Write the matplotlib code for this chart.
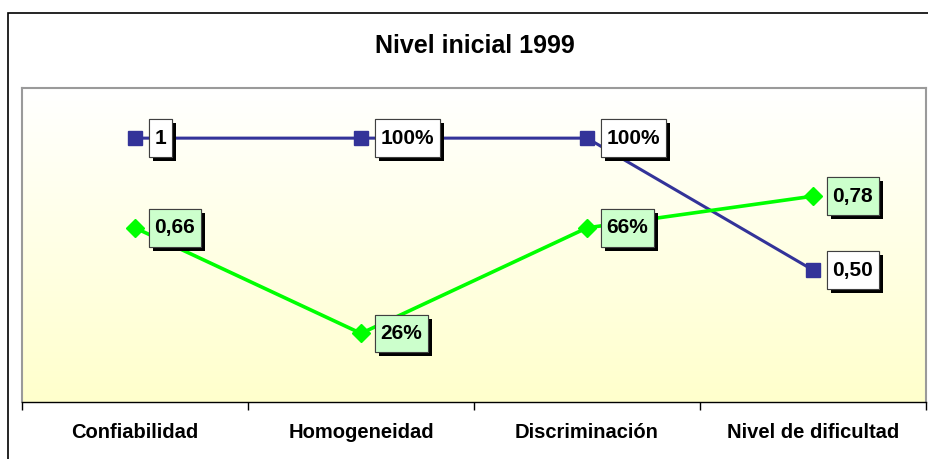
import numpy as np
import matplotlib
matplotlib.use('Agg')
import matplotlib.pyplot as plt
import matplotlib.patheffects as pe
from matplotlib.patches import Rectangle
from matplotlib.path import Path
from matplotlib.colors import LinearSegmentedColormap

plt.rcParams['font.family'] = ['Liberation Sans', 'DejaVu Sans']

categories = ["Confiabilidad", "Homogeneidad", "Discriminación", "Nivel de dificultad"]
serie_azul = [1.0, 1.0, 1.0, 0.50]
etiquetas_azul = ["1", "100%", "100%", "0,50"]
serie_verde = [0.66, 0.26, 0.66, 0.78]
etiquetas_verde = ["0,66", "26%", "66%", "0,78"]

fig = plt.figure(figsize=(9.29, 4.59), dpi=100)
W, H = 929, 459

# borde exterior del grafico (solo se ve arriba y a la izquierda)
fig.patches.append(Rectangle((8 / W, -0.1), 1.2, (H - 13) / H + 0.1,
                             transform=fig.transFigure, fill=False,
                             edgecolor='black', linewidth=1.2))

ax = fig.add_axes([22 / W, (H - 402) / H, (926 - 22) / W, (402 - 88) / H])
ax.set_xlim(-0.5, 3.5)
ax.set_ylim(0, 1.19)

# fondo degradado blanco -> amarillo claro
cmap = LinearSegmentedColormap.from_list("fondo", ["#FFFFCC", "#FFFFFF"])
grad = np.linspace(0, 1, 256).reshape(-1, 1)
ax.imshow(grad, aspect='auto', cmap=cmap, origin='lower',
          extent=[-0.5, 3.5, 0, 1.19], zorder=0)

x = np.arange(len(categories))
ax.plot(x, serie_azul, color='#333399', linewidth=2.2, marker='s',
        markersize=10, zorder=3)
ax.plot(x, serie_verde, color='#00FF00', linewidth=2.6, marker='D',
        markersize=9, zorder=3)


def caja(x0, y0, width, height, mutation_size):
    # caja con mas margen vertical que horizontal
    px = 0.28 * mutation_size
    py = 0.45 * mutation_size
    x0, y0 = x0 - px, y0 - py
    x1, y1 = x0 + width + 2 * px, y0 + height + 2 * py
    return Path([(x0, y0), (x1, y0), (x1, y1), (x0, y1), (x0, y0)], closed=True)


def poner_etiquetas(valores, textos, fondo):
    for xi, yi, t in zip(x, valores, textos):
        a = ax.annotate(t, (xi, yi), xytext=(14, 0), textcoords='offset points',
                        ha='left', va='center', fontsize=15, fontweight='bold',
                        bbox=dict(boxstyle=caja, facecolor=fondo,
                                  edgecolor='#404040', linewidth=0.8),
                        zorder=5)
        a.get_bbox_patch().set_path_effects([
            pe.withSimplePatchShadow(offset=(3, -3), shadow_rgbFace='black', alpha=1),
            pe.Normal()])


poner_etiquetas(serie_azul, etiquetas_azul, 'white')
poner_etiquetas(serie_verde, etiquetas_verde, '#CCFFCC')

ax.set_yticks([])
ax.set_xticks(x)
ax.set_xticklabels(categories, fontsize=14.5, fontweight='bold')
ax.tick_params(axis='x', which='major', length=0, pad=15)
ax.set_xticks([-0.5, 0.5, 1.5, 2.5, 3.5], minor=True)
ax.tick_params(axis='x', which='minor', length=6, width=1, color='black')

for s in ['top', 'left', 'right']:
    ax.spines[s].set_color('#9A9A9A')
    ax.spines[s].set_linewidth(1.5)
ax.spines['bottom'].set_color('black')
ax.spines['bottom'].set_linewidth(1)

fig.text(475 / W, 1 - 46 / H, "Nivel inicial 1999", ha='center', va='center',
         fontsize=18, fontweight='bold')

fig.savefig('out.png', dpi=100)
